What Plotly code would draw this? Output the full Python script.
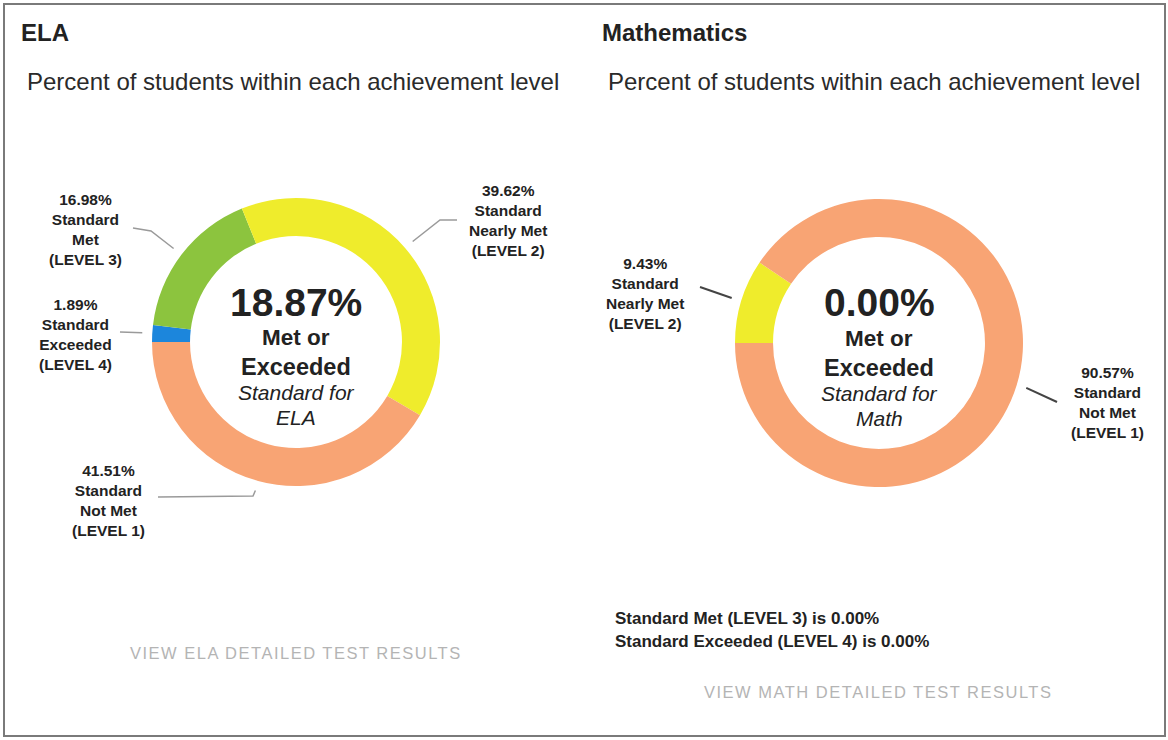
import math
import plotly.graph_objects as go

W, H = 1168, 740

# Achievement levels (LEVEL 1 .. LEVEL 4)
levels = ["Standard Not Met (LEVEL 1)", "Standard Nearly Met (LEVEL 2)",
          "Standard Met (LEVEL 3)", "Standard Exceeded (LEVEL 4)"]
level_colors = ["#F8A474", "#EFEC2C", "#8CC43E", "#1C86DC"]

ela_values = [41.51, 39.62, 16.98, 1.89]
math_values = [90.57, 9.43, 0.00, 0.00]

# label text per slice (line-broken)
label_names = ["Standard<br>Not Met<br>(LEVEL 1)", "Standard<br>Nearly Met<br>(LEVEL 2)",
               "Standard<br>Met<br>(LEVEL 3)", "Standard<br>Exceeded<br>(LEVEL 4)"]

FONT = "Arial, 'Liberation Sans', sans-serif"
TXT = "#222222"


def px(x, y):
    """pixel -> paper coords"""
    return x / W, 1 - y / H


ROT = 270  # LEVEL 1 starts at 9 o'clock and runs counter-clockwise


def mid_angle(values, i):
    total = sum(values)
    before = sum(values[:i]) / total * 360
    half = values[i] / total * 180
    return ROT - before - half  # degrees clockwise from 12 o'clock


def ring_point(cx, cy, r, ang):
    a = math.radians(ang)
    return cx + r * math.sin(a), cy - r * math.cos(a)


charts = [
    dict(values=ela_values, cx=296, cy=342, r=144,
         line_color="#9a9a9a", line_w=1.5,
         # per slice: (label centre x, y, elbow points after the ring point)
         labels={0: (108, 500, [(253, 496), (158, 497)]),
                 1: (508, 221, [(440, 220), (457, 220)]),
                 2: (85, 230, [(151, 231), (133, 228)]),
                 3: (75, 335, [(120, 332)])},
         title="ELA", tx=19, subject="ELA"),
    dict(values=math_values, cx=879, cy=343, r=144,
         line_color="#444444", line_w=2,
         labels={0: (1107, 402, [(1057, 402)]),
                 1: (645, 293, [(700, 287)])},
         title="Mathematics", tx=600, subject="Math"),
]

fig = go.Figure()
annotations = []
shapes = []

for ch in charts:
    cx, cy, r = ch["cx"], ch["cy"], ch["r"]
    x0, y1 = px(cx - r, cy - r)
    x1, y0 = px(cx + r, cy + r)
    # clockwise from 9 o'clock with the levels reversed == LEVEL 1 first, counter-clockwise
    fig.add_trace(go.Pie(
        labels=levels[::-1], values=ch["values"][::-1], sort=False,
        direction="clockwise", rotation=ROT, hole=0.736,
        marker=dict(colors=level_colors[::-1], line=dict(width=0)),
        textinfo="none", hoverinfo="label+value", showlegend=False,
        domain=dict(x=[x0, x1], y=[y0, y1]),
    ))

    # slice labels with leader lines
    for i, (lx, ly, elbows) in ch["labels"].items():
        ang = mid_angle(ch["values"], i)
        sx, sy = ring_point(cx, cy, r + 10, ang)
        pts = [(sx, sy)] + elbows
        path = "M " + " L ".join(f"{px(a, b)[0]:.5f},{px(a, b)[1]:.5f}" for a, b in pts)
        shapes.append(dict(type="path", path=path, xref="paper", yref="paper",
                           line=dict(color=ch["line_color"], width=ch["line_w"])))
        ax_, ay_ = px(lx, ly)
        annotations.append(dict(
            x=ax_, y=ay_, xref="paper", yref="paper", showarrow=False,
            xanchor="center", yanchor="middle", align="center",
            text=f"<b>{ch['values'][i]:.2f}%<br>{label_names[i]}</b>",
            font=dict(family=FONT, size=15.5, color=TXT)))

    # centre text: share meeting or exceeding the standard
    met = ch["values"][2] + ch["values"][3]
    centre_lines = [
        (f"<b>{met:.2f}%</b>", 39, cy - 40),
        ("<b>Met or</b>", 22.5, cy - 5),
        ("<b>Exceeded</b>", 23.5, cy + 25),
        ("<i>Standard for</i>", 21, cy + 50),
        (f"<i>{ch['subject']}</i>", 21, cy + 75),
    ]
    for text, size, yy in centre_lines:
        ax_, ay_ = px(cx, yy)
        annotations.append(dict(x=ax_, y=ay_, xref="paper", yref="paper",
                                showarrow=False, xanchor="center", yanchor="middle",
                                text=text, font=dict(family=FONT, size=size, color=TXT)))

    # panel title and subtitle
    ax_, ay_ = px(ch["tx"], 32)
    annotations.append(dict(x=ax_, y=ay_, xref="paper", yref="paper", showarrow=False,
                            xanchor="left", yanchor="middle", text=f"<b>{ch['title']}</b>",
                            font=dict(family=FONT, size=24, color=TXT)))
    ax_, ay_ = px(ch["tx"] + 6, 82)
    annotations.append(dict(x=ax_, y=ay_, xref="paper", yref="paper", showarrow=False,
                            xanchor="left", yanchor="middle",
                            text="Percent of students within each achievement level",
                            font=dict(family=FONT, size=24, color="#2a2a2a")))

# levels with no students in Mathematics
zero_lines = [f"<b>{levels[k]} is {math_values[k]:.2f}%</b>"
              for k in (2, 3) if math_values[k] == 0]
for j, t in enumerate(zero_lines):
    ax_, ay_ = px(613, 618 + 23 * j)
    annotations.append(dict(x=ax_, y=ay_, xref="paper", yref="paper", showarrow=False,
                            xanchor="left", yanchor="middle", text=t,
                            font=dict(family=FONT, size=17, color=TXT)))

# links to detailed results
for label, cx, yy in [("VIEW ELA DETAILED TEST RESULTS", 296, 653),
                      ("VIEW MATH DETAILED TEST RESULTS", 878, 692)]:
    ax_, ay_ = px(cx, yy)
    annotations.append(dict(x=ax_, y=ay_, xref="paper", yref="paper", showarrow=False,
                            xanchor="center", yanchor="middle",
                            text=f"<span style='letter-spacing:1.5px'>{label}</span>",
                            font=dict(family=FONT, size=16.5, color="#b4b4b4")))

# outer frame
fx0, fy1 = px(4, 4)
fx1, fy0 = px(1165, 736)
shapes.append(dict(type="rect", xref="paper", yref="paper", x0=fx0, x1=fx1, y0=fy0, y1=fy1,
                   line=dict(color="#7a7a7a", width=2), fillcolor="rgba(0,0,0,0)"))

fig.update_layout(
    width=W, height=H, margin=dict(l=0, r=0, t=0, b=0),
    paper_bgcolor="white", plot_bgcolor="white",
    annotations=annotations, shapes=shapes, showlegend=False,
)

fig.write_html("out.html")
